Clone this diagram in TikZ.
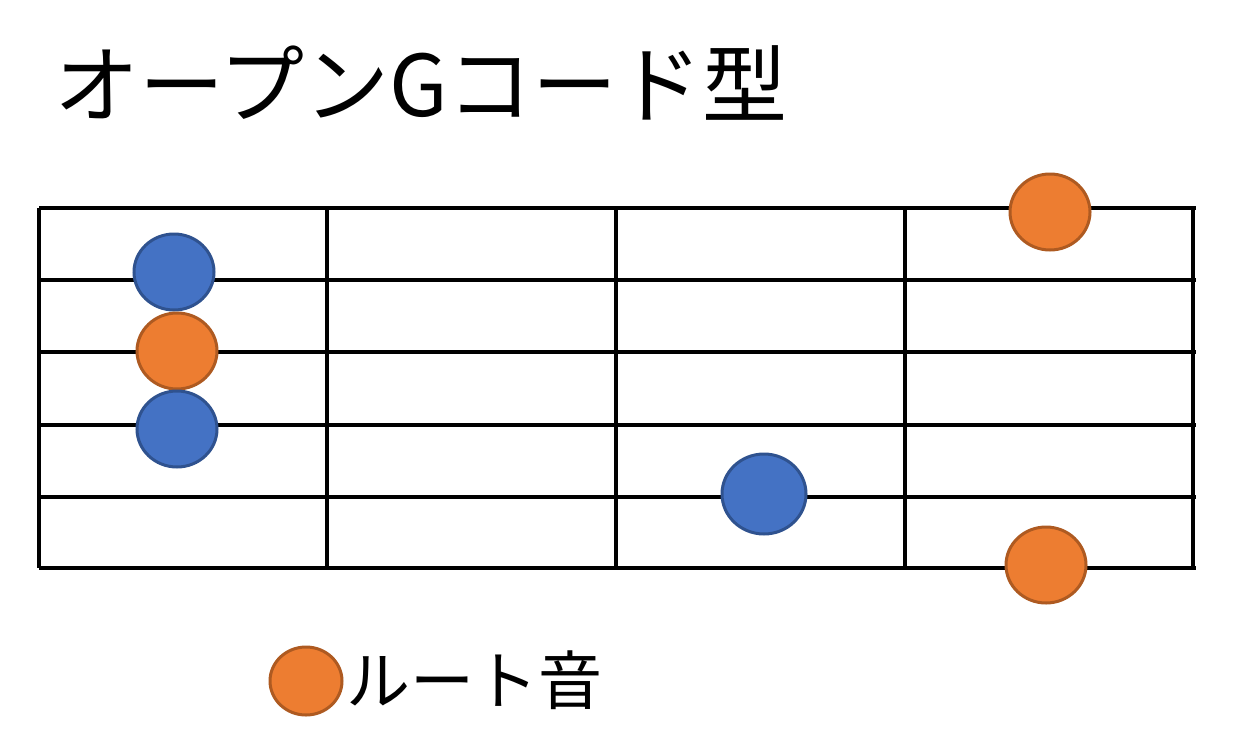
\documentclass[tikz,border=0pt]{standalone}
\usepackage{fontspec}
\newfontfamily\jp{Noto Sans CJK JP}
\usetikzlibrary{shapes.geometric}
\definecolor{bluefill}{HTML}{4472C4}
\definecolor{blueedge}{HTML}{2F528F}
\definecolor{orfill}{HTML}{ED7D31}
\definecolor{oredge}{HTML}{AE5A21}
\tikzset{
  gridline/.style={line width=4pt, black},
  dotbase/.style={ellipse, minimum width=80pt, minimum height=76pt, inner sep=0pt, line width=3pt},
  bluedot/.style={dotbase, fill=bluefill, draw=blueedge},
  rootdot/.style={dotbase, fill=orfill, draw=oredge},
}
\begin{document}
\begin{tikzpicture}[x=1pt,y=-1pt]
\useasboundingbox[fill=white] (0,0) rectangle (1236,747);
% title
\node[anchor=west, inner sep=0pt, font=\jp\fontsize{85}{85}\selectfont] (title) at (54,83) {オープンGコード型};
% strings
\foreach \y in {208,280,352,425,497,568}
  \draw[gridline] (39,\y) -- (1196,\y);
% frets
\foreach \x in {39,327,616,905,1193}
  \draw[gridline] (\x,208) -- (\x,568);
% notes
\node[bluedot] (n1) at (174,272) {};
\node[rootdot] (n2) at (177,351) {};
\node[bluedot] (n3) at (177,429) {};
\node[bluedot, minimum width=84pt, minimum height=80pt] (n4) at (764,494) {};
\node[rootdot] (n5) at (1050,212) {};
\node[rootdot] (n6) at (1046,565) {};
% legend
\node[rootdot, minimum width=72pt, minimum height=68pt] (leg) at (306,681) {};
\node[anchor=west, inner sep=0pt, font=\jp\fontsize{64}{64}\selectfont] (legtext) at (346,680) {ルート音};
\end{tikzpicture}
\end{document}
